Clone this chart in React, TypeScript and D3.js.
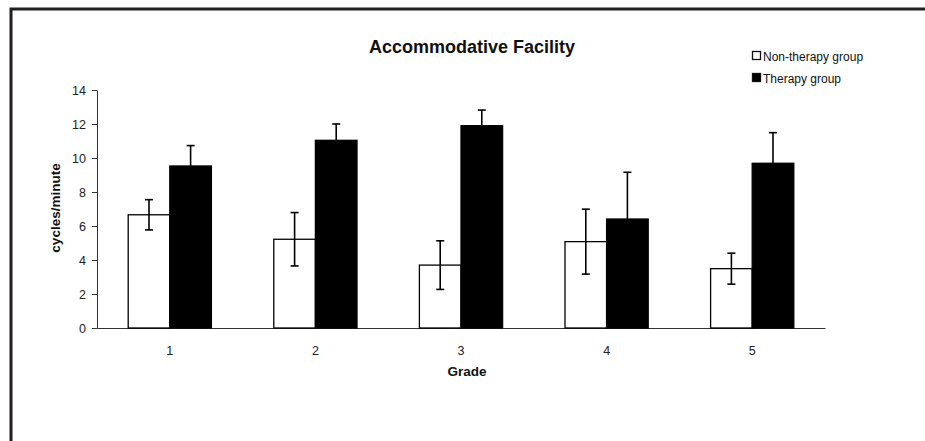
import React, { useEffect, useRef } from "react";
import * as d3 from "d3";

const grades = ["1", "2", "3", "4", "5"];
const nonTherapy = [6.66, 5.22, 3.7, 5.08, 3.49];
const nonTherapyErr = [0.89, 1.57, 1.43, 1.91, 0.91];
const therapy = [9.53, 11.04, 11.9, 6.41, 9.69];
const therapyErr = [1.2, 0.96, 0.92, 2.75, 1.8];
const yTicks = [0, 2, 4, 6, 8, 10, 12, 14];
const seriesNames = ["Non-therapy group", "Therapy group"];

export default function App() {
  const chartRef = useRef<SVGSVGElement | null>(null);

  useEffect(() => {
    const width = 925;
    const height = 441;
    const margin = { top: 90, right: 100, bottom: 113, left: 97 };
    const innerW = width - margin.left - margin.right;
    const innerH = height - margin.top - margin.bottom;
    const font = "'Liberation Sans', Arial, sans-serif";

    const svg = d3.select(chartRef.current);
    svg.selectAll("*").remove();

    // 外框 (only top and left edges visible)
    svg
      .append("path")
      .attr("d", `M11,${height} L11,9 L${width},9`)
      .attr("fill", "none")
      .attr("stroke", "#231f20")
      .attr("stroke-width", 3);

    const g = svg
      .append("g")
      .attr("transform", `translate(${margin.left},${margin.top})`);

    const x0 = d3.scaleBand().domain(grades).range([0, innerW]).paddingInner(0).paddingOuter(0);
    const bw = x0.bandwidth() / 3.5;
    const x1 = d3
      .scaleBand()
      .domain(["non", "ther"])
      .range([x0.bandwidth() / 2 - bw, x0.bandwidth() / 2 + bw]);
    const y = d3.scaleLinear().domain([0, 14]).range([innerH, 0]);

    // y轴
    const yAxis = g
      .append("g")
      .call(d3.axisLeft(y).tickValues(yTicks).tickSize(5).tickSizeOuter(0).tickPadding(6));
    yAxis.selectAll("text").attr("font-size", 12.5).attr("font-family", font).attr("fill", "#222");
    yAxis.selectAll("line, path").attr("stroke", "#333");

    // x轴
    const xAxis = g
      .append("g")
      .attr("transform", `translate(0,${innerH})`)
      .call(d3.axisBottom(x0).tickSize(0).tickSizeOuter(0).tickPadding(18));
    xAxis.selectAll("text").attr("font-size", 12.5).attr("font-family", font).attr("fill", "#222");
    xAxis.select("path").attr("stroke", "#333");

    const series = [
      { key: "non", values: nonTherapy, errs: nonTherapyErr, fill: "#fff" },
      { key: "ther", values: therapy, errs: therapyErr, fill: "#000" },
    ];

    series.forEach((s) => {
      const bars = g.append("g");
      bars
        .selectAll("rect")
        .data(grades)
        .enter()
        .append("rect")
        .attr("x", (d) => Number(x0(d)) + Number(x1(s.key)))
        .attr("y", (d, i) => y(s.values[i]))
        .attr("width", x1.bandwidth())
        .attr("height", (d, i) => innerH - y(s.values[i]))
        .attr("fill", s.fill)
        .attr("stroke", "#000")
        .attr("stroke-width", 1.3);

      // 误差线
      const eb = g.append("g").attr("stroke", "#000").attr("stroke-width", 1.6);
      grades.forEach((d, i) => {
        const cx = Number(x0(d)) + Number(x1(s.key)) + x1.bandwidth() / 2;
        const hi = y(s.values[i] + s.errs[i]);
        const lo = y(s.values[i] - s.errs[i]);
        eb.append("line").attr("x1", cx).attr("x2", cx).attr("y1", hi).attr("y2", lo);
        eb.append("line").attr("x1", cx - 4).attr("x2", cx + 4).attr("y1", hi).attr("y2", hi);
        eb.append("line").attr("x1", cx - 4).attr("x2", cx + 4).attr("y1", lo).attr("y2", lo);
      });
    });

    // 标题
    svg
      .append("text")
      .attr("x", 472)
      .attr("y", 53)
      .attr("text-anchor", "middle")
      .attr("font-family", font)
      .attr("font-size", 18)
      .attr("font-weight", 700)
      .attr("fill", "#111")
      .text("Accommodative Facility");

    // 轴标题
    svg
      .append("text")
      .attr("transform", "translate(60,208) rotate(-90)")
      .attr("text-anchor", "middle")
      .attr("font-family", font)
      .attr("font-size", 13.5)
      .attr("font-weight", 700)
      .attr("fill", "#111")
      .text("cycles/minute");

    svg
      .append("text")
      .attr("x", margin.left + innerW / 2 + 6)
      .attr("y", 376)
      .attr("text-anchor", "middle")
      .attr("font-family", font)
      .attr("font-size", 13.5)
      .attr("font-weight", 700)
      .attr("fill", "#111")
      .text("Grade");

    // 图例
    const legend = svg.append("g").attr("transform", "translate(752,51)");
    seriesNames.forEach((name, i) => {
      const row = legend.append("g").attr("transform", `translate(0,${i * 22})`);
      row
        .append("rect")
        .attr("x", 0.5)
        .attr("y", 0.5)
        .attr("width", 8)
        .attr("height", 8)
        .attr("fill", series[i].fill)
        .attr("stroke", "#111")
        .attr("stroke-width", 1.3);
      row
        .append("text")
        .attr("x", 11)
        .attr("y", 10)
        .attr("font-family", font)
        .attr("font-size", 12)
        .attr("fill", "#111")
        .text(name);
    });
  }, []);

  return (
    <div style={{ position: "absolute", left: 0, top: 0 }}>
      <svg ref={chartRef} width={925} height={441} style={{ display: "block", background: "#fff" }} />
    </div>
  );
}
